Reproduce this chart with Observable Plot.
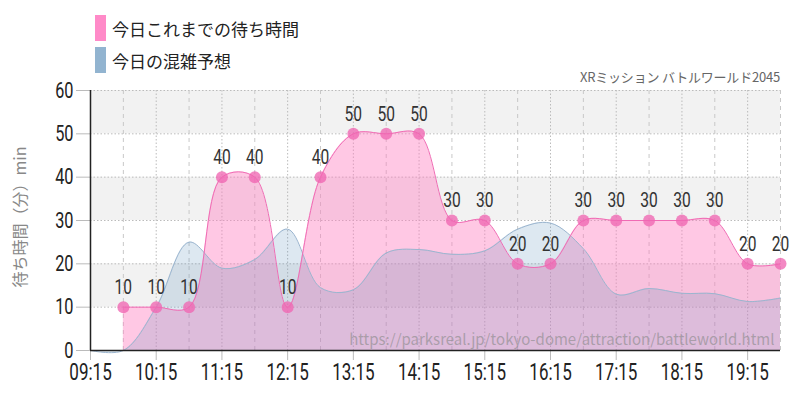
<!DOCTYPE html>
<html>
<head>
<meta charset="utf-8">
<script src="https://cdn.jsdelivr.net/npm/d3@7"></script>
<script src="https://cdn.jsdelivr.net/npm/@observablehq/plot@0.6"></script>
<style>
  body { margin: 0; background: #fff; }
  #wrap { position: relative; width: 800px; height: 400px; }
  #legend { position: absolute; left: 95px; top: 12px; font-family: "Noto Sans CJK JP", sans-serif; font-size: 17px; color: #222; }
  .item { display: flex; align-items: center; height: 32px; }
  .sw { width: 11px; height: 26px; margin-right: 6px; }
  #title { position: absolute; right: 20px; top: 67px; font-family: "Noto Sans CJK JP", sans-serif; font-size: 13px; letter-spacing: -0.2px; color: #666; }
  #ylabel { position: absolute; left: 19px; top: 217px; width: 200px; margin-left: -100px; margin-top: -11px; text-align: center; line-height: 22px; transform: rotate(-90deg); font-family: "Noto Sans CJK JP", sans-serif; font-size: 16px; color: #888; white-space: nowrap; }
</style>
</head>
<body>
<div id="wrap">
  <div id="chart"></div>
  <div id="legend"></div>
  <div id="title"></div>
  <div id="ylabel"></div>
</div>
<script>
const seriesNames = ["今日これまでの待ち時間", "今日の混雑予想"];
const seriesColors = ["#ff8ac8", "#92b4d0"];
const titleText = "XRミッション バトルワールド2045";
const yLabel = "待ち時間（分）min";
const sourceText = "https://parksreal.jp/tokyo-dome/attraction/battleworld.html";

const waitTimes = ["09:45","10:15","10:45","11:15","11:45","12:15","12:45","13:15","13:45","14:15","14:45","15:15","15:45","16:15","16:45","17:15","17:45","18:15","18:45","19:15","19:45"];
const waitValues = [10,10,10,40,40,10,40,50,50,50,30,30,20,20,30,30,30,30,30,20,20];

const predTimes = ["09:15","09:45","10:15","10:45","11:15","11:45","12:15","12:45","13:15","13:45","14:15","14:45","15:15","15:45","16:15","16:45","17:15","17:45","18:15","18:45","19:15","19:45"];
const predValues = [0,0,10,25,19,21,28,14.5,14,22.5,23.3,22.2,23,28,29.4,23.5,13,14.3,13.2,13.1,11.3,12.1];

const xTickLabels = ["09:15","10:15","11:15","12:15","13:15","14:15","15:15","16:15","17:15","18:15","19:15"];
const xHalfLines = ["09:45","10:45","11:45","12:45","13:45","14:45","15:45","16:45","17:45","18:45","19:45"];
const xDomain = ["09:15","19:45"];
const yTicks = [0,10,20,30,40,50,60];
const bands = [[10,20],[30,40],[50,60]];

const t = s => { const [h,m] = s.split(":").map(Number); return new Date(Date.UTC(2024,0,1,h,m)); };
const wait = waitTimes.map((s,i) => ({x: t(s), y: waitValues[i]}));
const pred = predTimes.map((s,i) => ({x: t(s), y: predValues[i]}));

const numFont = "Roboto, sans-serif";

const chart = Plot.plot({
  width: 800, height: 400,
  marginTop: 90, marginBottom: 50, marginLeft: 90, marginRight: 20,
  style: { fontFamily: numFont, background: "transparent", overflow: "visible" },
  x: { type: "utc", domain: xDomain.map(t) },
  y: { domain: [0, 60] },
  marks: [
    Plot.rect(bands, { y1: d => d[0], y2: d => d[1], fill: "#f2f2f2" }),
    Plot.gridY(yTicks, { stroke: "#bbb", strokeOpacity: 1, strokeDasharray: "1.5,2" }),
    Plot.gridX(xTickLabels.map(t), { stroke: "#bbb", strokeOpacity: 1, strokeDasharray: "1.5,2" }),
    Plot.gridX(xHalfLines.map(t), { stroke: "#c8c8c8", strokeOpacity: 1, strokeDasharray: "4,4" }),
    Plot.areaY(wait, { x: "x", y: "y", curve: "catmull-rom", fill: "#ff7fc1", fillOpacity: 0.43 }),
    Plot.areaY(pred, { x: "x", y: "y", curve: "catmull-rom", fill: "#558cb9", fillOpacity: 0.2 }),
    Plot.lineY(pred, { x: "x", y: "y", curve: "catmull-rom", stroke: "#9bb5cf", strokeWidth: 1 }),
    Plot.lineY(wait, { x: "x", y: "y", curve: "catmull-rom", stroke: "#f06bb4", strokeWidth: 1 }),
    Plot.dot(wait, { x: "x", y: "y", r: 6, fill: "#ef66b2", fillOpacity: 0.78, stroke: null }),
    Plot.text(wait, { x: "x", y: "y", text: d => String(d.y), dy: -20, fontSize: 21, fill: "#333" }),
    Plot.text([sourceText], { frameAnchor: "bottom-right", dx: -6, dy: -6, fontSize: 15, fill: "#888", fillOpacity: 0.6, fontFamily: "'Noto Sans CJK JP', sans-serif" }),
    Plot.axisY(yTicks, { tickSize: 14, tickPadding: 3, stroke: "#bbb", color: "#222", fontSize: 22, label: null }),
    Plot.axisX(xTickLabels.map(t), { tickSize: 10, tickPadding: 3, stroke: "#bbb", color: "#222", fontSize: 23, tickFormat: d3.utcFormat("%H:%M"), label: null }),
    Plot.ruleX([t(xDomain[0])], { stroke: "#222", strokeWidth: 1.5 }),
    Plot.ruleY([0], { stroke: "#222", strokeWidth: 1.5 })
  ]
});
document.getElementById("chart").appendChild(chart);

// condensed look for numeric labels
chart.querySelectorAll("text").forEach(el => {
  const s = el.textContent.trim();
  if (/^[\d:]+$/.test(s)) {
    const w = el.getComputedTextLength();
    if (w > 0) {
      el.setAttribute("textLength", (w * 0.74).toFixed(1));
      el.setAttribute("lengthAdjust", "spacingAndGlyphs");
    }
  }
});

const legend = document.getElementById("legend");
seriesNames.forEach((n,i) => {
  const d = document.createElement("div"); d.className = "item";
  const s = document.createElement("div"); s.className = "sw"; s.style.background = seriesColors[i];
  const l = document.createElement("span"); l.textContent = n;
  d.appendChild(s); d.appendChild(l); legend.appendChild(d);
});
document.getElementById("title").textContent = titleText;
document.getElementById("ylabel").textContent = yLabel;
</script>
</body>
</html>
